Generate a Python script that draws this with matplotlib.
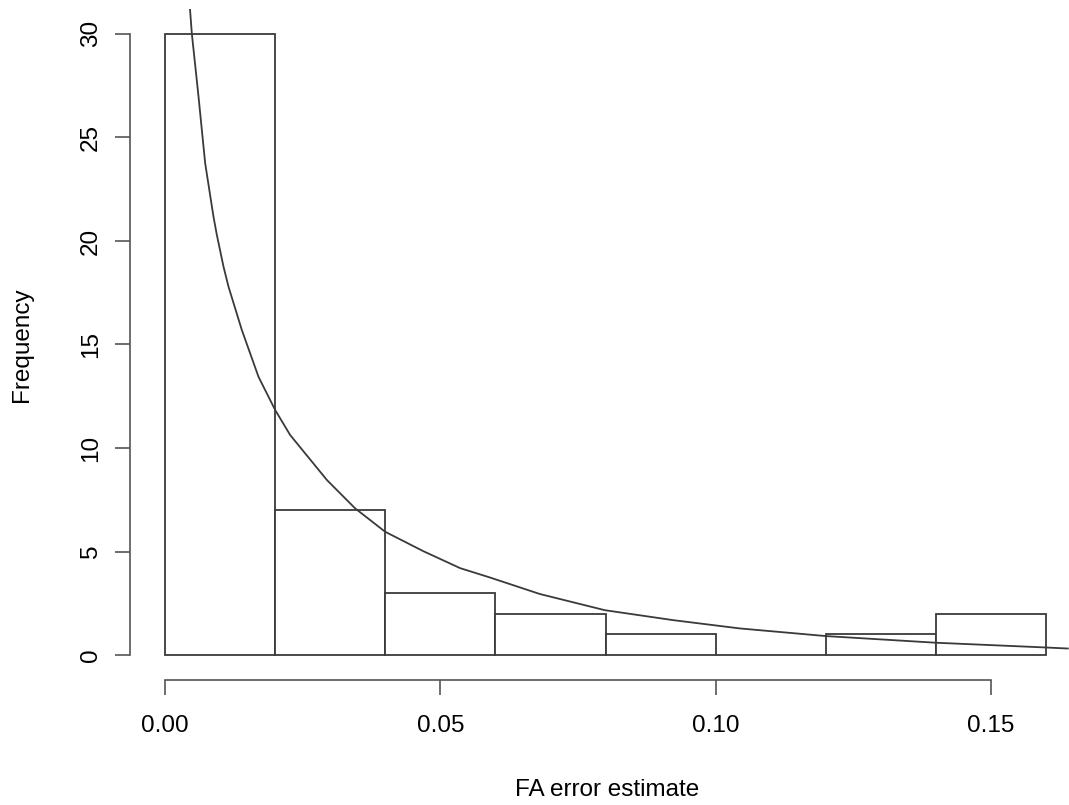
import numpy as np
import matplotlib
matplotlib.use("Agg")
import matplotlib.pyplot as plt

plt.rcParams['font.family'] = ['Liberation Sans', 'DejaVu Sans']

# histogram bins and counts
bin_edges = [0.00, 0.02, 0.04, 0.06, 0.08, 0.10, 0.12, 0.14, 0.16]
counts = [30, 7, 3, 2, 1, 0, 1, 2]

# fitted curve
curve_x = [0.0045, 0.00484, 0.00605, 0.00726, 0.00877, 0.00938, 0.01059, 0.0115,
           0.01392, 0.01695, 0.01997, 0.0227, 0.0294, 0.0345, 0.03995,
           0.0469, 0.0536, 0.0590, 0.0681, 0.0799, 0.0923, 0.1044, 0.1201, 0.1400,
           0.1600, 0.1640]
curve_y = [31.2, 30.0, 26.97, 23.75, 21.17, 20.29, 18.76, 17.79,
           15.70, 13.44, 11.84, 10.63, 8.45, 7.09, 5.96,
           5.02, 4.2, 3.75, 2.95, 2.17, 1.69, 1.29, 0.92, 0.60,
           0.37, 0.32]

xticks = [0.00, 0.05, 0.10, 0.15]
yticks = [0, 5, 10, 15, 20, 25, 30]

W, H = 1069, 805
fig = plt.figure(figsize=(W / 100, H / 100), dpi=100)
ax = fig.add_axes([130 / W, 1 - 680 / H, 951 / W, (680 - 9) / H])

lefts = np.array(bin_edges[:-1])
widths = np.diff(bin_edges)
ax.bar(lefts, counts, width=widths, align='edge', facecolor='white',
       edgecolor='#3a3a3a', linewidth=1.3)
ax.plot(curve_x, curve_y, color='#3a3a3a', linewidth=1.3, clip_on=True)

ax.set_xlim(-0.0064, 0.1664)
ax.set_ylim(-1.2, 31.2)

for s in ['top', 'right']:
    ax.spines[s].set_visible(False)
ax.spines['left'].set_bounds(0, 30)
ax.spines['bottom'].set_bounds(0, 0.15)
for s in ['left', 'bottom']:
    ax.spines[s].set_color('#555555')
    ax.spines[s].set_linewidth(1.2)

ax.set_xticks(xticks)
ax.set_xticklabels(['%.2f' % v for v in xticks])
ax.set_yticks(yticks)
ax.tick_params(axis='both', length=11, width=1.2, color='#555555',
               labelsize=17.5, labelcolor='black')
ax.tick_params(axis='x', pad=14)
ax.tick_params(axis='y', pad=9)
for lab in ax.get_yticklabels():
    lab.set_rotation(90)
    lab.set_va('center')

fig.text(607 / W, 1 - 790 / H, 'FA error estimate', ha='center', va='center',
         fontsize=17.5)
fig.text(22 / W, 1 - 345 / H, 'Frequency', ha='center', va='center',
         rotation=90, fontsize=17.5)

fig.savefig('out.png', dpi=100)
